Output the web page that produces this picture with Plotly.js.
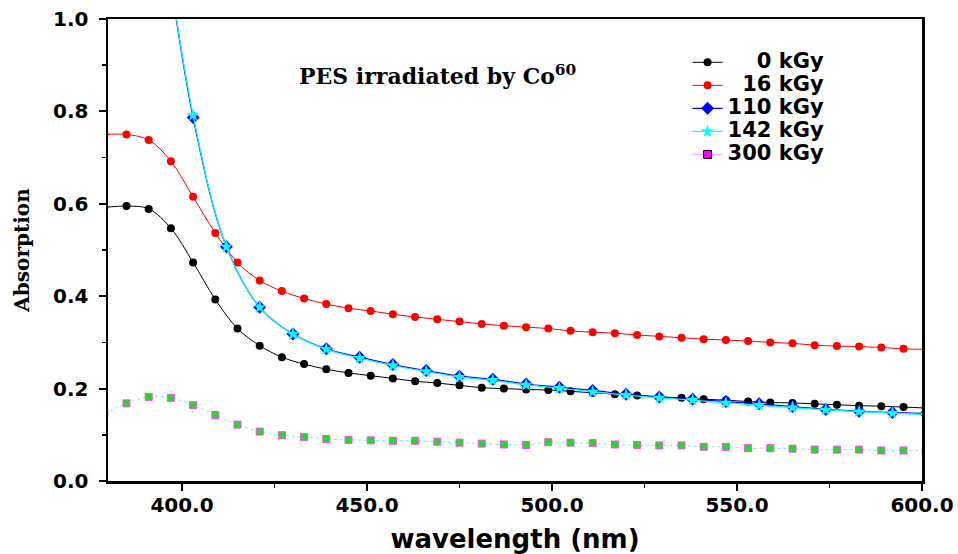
<!DOCTYPE html>
<html>
<head>
<meta charset="utf-8">
<script src="https://cdn.plot.ly/plotly-3.0.1.min.js"></script>
<style>
  html, body { margin: 0; padding: 0; background: #ffffff; }
  #chart { width: 958px; height: 554px; }
</style>
</head>
<body>
<div id="chart"></div>
<script>
// Wavelength grids (nm)
const wl6 = [379, 385, 391, 397, 403, 409, 415, 421, 427, 433, 439, 445, 451, 457, 463, 469, 475, 481, 487, 493,
             499, 505, 511, 517, 523, 529, 535, 541, 547, 553, 559, 565, 571, 577, 583, 589, 595, 601];
const wl9 = [394, 403, 412, 421, 430, 439, 448, 457, 466, 475, 484, 493, 502, 511, 520, 529, 538, 547, 556, 565,
             574, 583, 592, 601];

// Absorption for each dose
const abs0 = [0.592, 0.595, 0.589, 0.547, 0.473, 0.393, 0.330, 0.293, 0.268, 0.253, 0.242, 0.234, 0.228, 0.222,
              0.216, 0.212, 0.207, 0.202, 0.200, 0.198, 0.197, 0.194, 0.191, 0.188, 0.185, 0.182, 0.180, 0.177,
              0.175, 0.172, 0.170, 0.169, 0.167, 0.165, 0.163, 0.162, 0.160, 0.158];
const abs16 = [0.750, 0.750, 0.738, 0.692, 0.615, 0.537, 0.473, 0.434, 0.411, 0.395, 0.383, 0.374, 0.368, 0.361,
               0.355, 0.350, 0.345, 0.340, 0.336, 0.333, 0.330, 0.325, 0.322, 0.320, 0.316, 0.313, 0.310, 0.307,
               0.305, 0.303, 0.300, 0.298, 0.294, 0.292, 0.291, 0.289, 0.286, 0.285];
const abs110 = [1.25, 0.787, 0.507, 0.376, 0.318, 0.286, 0.268, 0.252, 0.239, 0.227, 0.220, 0.210, 0.203, 0.196,
                0.188, 0.182, 0.177, 0.172, 0.167, 0.161, 0.155, 0.151, 0.148, 0.146];
const abs142 = [1.25, 0.792, 0.507, 0.376, 0.318, 0.285, 0.266, 0.250, 0.237, 0.225, 0.218, 0.208, 0.201, 0.193,
                0.186, 0.180, 0.175, 0.169, 0.164, 0.159, 0.154, 0.150, 0.147, 0.144];
const abs300 = [0.145, 0.168, 0.182, 0.180, 0.164, 0.143, 0.122, 0.107, 0.099, 0.095, 0.091, 0.089, 0.088, 0.087,
                0.087, 0.085, 0.083, 0.081, 0.079, 0.078, 0.084, 0.083, 0.082, 0.079, 0.078, 0.077, 0.077, 0.074,
                0.074, 0.071, 0.071, 0.070, 0.068, 0.068, 0.068, 0.066, 0.066, 0.065];

const doseLabels = ['\u2007\u20070 kGy', '\u200716 kGy', '110 kGy', '142 kGy', '300 kGy'];
const xTicks = [400, 450, 500, 550, 600];
const xTickText = ['400.0', '450.0', '500.0', '550.0', '600.0'];

const sans = 'DejaVu Sans, Arial, sans-serif';
const serif = 'DejaVu Serif, Times New Roman, serif';

// legend rows are spaced by the (small) legend font size; the label itself is drawn larger
const legendLabel = s => '<span style="font-size:21px">' + s + '</span>';

const traces = [
  { x: wl6, y: abs0, name: legendLabel(doseLabels[0]), mode: 'lines+markers',
    line: { color: '#000000', width: 1, shape: 'spline' },
    marker: { symbol: 'circle', size: 8, color: '#000000' } },
  { x: wl6, y: abs16, name: legendLabel(doseLabels[1]), mode: 'lines+markers',
    line: { color: '#ff0000', width: 1, shape: 'spline' },
    marker: { symbol: 'circle', size: 8, color: '#ff0000' } },
  { x: wl9, y: abs110, name: legendLabel(doseLabels[2]), mode: 'lines+markers',
    line: { color: '#0000ff', width: 1.2, shape: 'spline' },
    marker: { symbol: 'diamond', size: 10, color: '#0000ff' } },
  { x: wl9, y: abs142, name: legendLabel(doseLabels[3]), mode: 'lines+markers',
    line: { color: '#00ffff', width: 1.2, shape: 'spline' },
    marker: { symbol: 'star', size: 10, color: '#00ffff' } },
  // 300 kGy legend key
  { x: [null], y: [null], name: legendLabel(doseLabels[4]), mode: 'lines+markers',
    line: { color: '#ffaaff', width: 1.2 },
    marker: { symbol: 'square', size: 8, color: '#ff00ff', line: { color: '#000000', width: 1 } } },
  // 300 kGy curve
  { x: wl6, y: abs300, name: doseLabels[4], mode: 'lines+markers', showlegend: false,
    line: { color: '#80e8f0', width: 1, shape: 'spline', dash: 'dot' },
    marker: { symbol: 'square', size: 7, color: '#22dd22', line: { color: '#ff44ff', width: 1 } } }
];

const layout = {
  width: 958,
  height: 554,
  margin: { l: 108, r: 36, t: 19, b: 73 },
  paper_bgcolor: '#ffffff',
  plot_bgcolor: '#ffffff',
  showlegend: true,
  legend: {
    x: 0.712, y: 0.942, xanchor: 'left', yanchor: 'top',
    bgcolor: 'rgba(0,0,0,0)', borderwidth: 0,
    font: { family: sans, size: 15.4, color: '#000000', weight: 700 }
  },
  xaxis: {
    range: [380, 600],
    tickvals: xTicks, ticktext: xTickText,
    ticks: 'outside', ticklen: 7, tickwidth: 2, tickcolor: '#000000',
    ticklabelstandoff: -3,
    minor: { dtick: 25, tick0: 375, ticks: 'outside', ticklen: 4, tickwidth: 1.5, tickcolor: '#000000' },
    showline: true, linewidth: 2.5, linecolor: '#000000', mirror: true,
    showgrid: false, zeroline: false,
    tickfont: { family: sans, size: 20, color: '#000000', weight: 700 },
    title: { text: 'wavelength (nm)', standoff: 20,
             font: { family: sans, size: 26, color: '#000000', weight: 700 } }
  },
  yaxis: {
    range: [0, 1],
    dtick: 0.2, tick0: 0, tickformat: '.1f',
    ticks: 'outside', ticklen: 7, tickwidth: 2, tickcolor: '#000000',
    ticklabelstandoff: 6,
    minor: { dtick: 0.1, ticks: 'outside', ticklen: 4, tickwidth: 1.5, tickcolor: '#000000' },
    showline: true, linewidth: 2.5, linecolor: '#000000', mirror: true,
    showgrid: false, zeroline: false,
    tickfont: { family: sans, size: 20, color: '#000000', weight: 700 },
    title: { text: 'Absorption', standoff: 18,
             font: { family: serif, size: 20, color: '#000000', weight: 700 } }
  },
  annotations: [
    { x: 431, y: 0.879, xref: 'x', yref: 'y', xanchor: 'left', yanchor: 'middle', showarrow: false,
      text: 'PES irradiated by Co<sup>60</sup>',
      font: { family: serif, size: 22, color: '#000000', weight: 700 } }
  ]
};

Plotly.newPlot('chart', traces, layout, { displayModeBar: false, staticPlot: true });
</script>
</body>
</html>
